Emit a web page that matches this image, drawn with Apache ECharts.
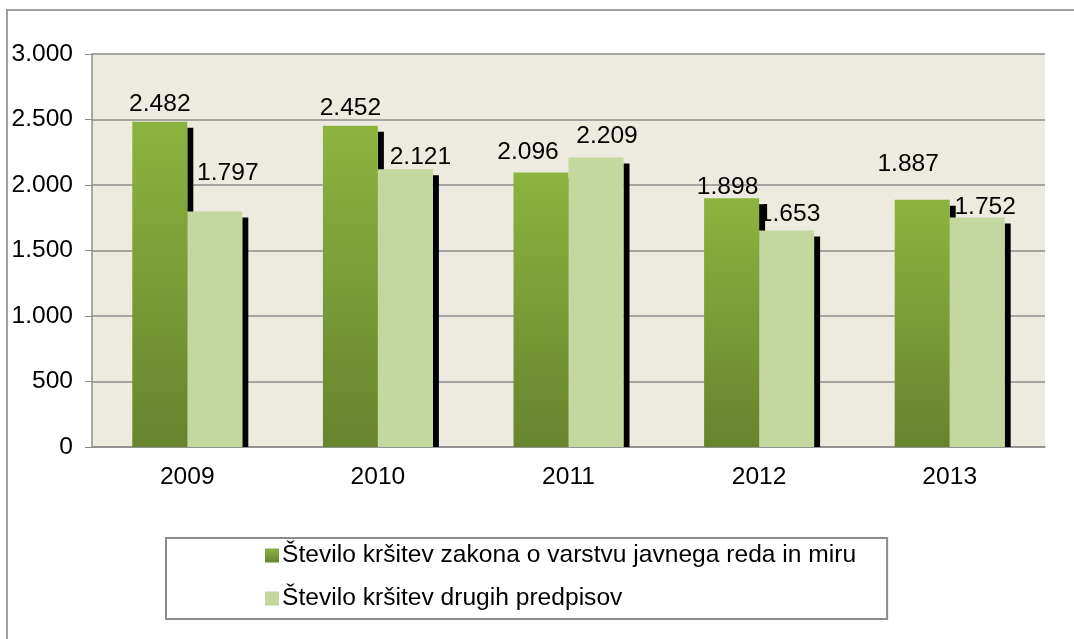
<!DOCTYPE html>
<html>
<head>
<meta charset="utf-8">
<style>
  html, body { margin: 0; padding: 0; background: #fff; }
  #chart { width: 1074px; height: 639px; }
</style>
<script src="https://cdn.jsdelivr.net/npm/echarts@6/dist/echarts.min.js"></script>
</head>
<body>
<div id="chart"></div>
<script>
// podatki
var years = ['2009', '2010', '2011', '2012', '2013'];
var seriesNames = ['Število kršitev zakona o varstvu javnega reda in miru', 'Število kršitev drugih predpisov'];
var zakonValues = [2482, 2452, 2096, 1898, 1887];
var drugiValues = [1797, 2121, 2209, 1653, 1752];

// ročno premaknjene oznake (dx, razdalja nad stolpcem)
var zakonLabelDx = [0, 0, -13, -4, -14];
var zakonLabelDy = [19, 19, 22, 13, 37];
var drugiLabelDx = [13, 15, 11, 3, 8];
var drugiLabelDy = [40, 13, 23, 18, 12];

var font = 'Liberation Sans, Arial, sans-serif';
var fs = 24.6;
var barW = 55;
var shadowW = 6;

function fmt(v) {
    var s = String(v);
    if (s.length > 3) s = s.slice(0, s.length - 3) + '.' + s.slice(s.length - 3);
    return s;
}

function barData(values, dx, dy) {
    return values.map(function (v, i) {
        return { value: v, label: { offset: [dx[i], -(dy[i] - 14)] } };
    });
}

function shadowData(values) {
    return values.map(function (v, i) { return [i, v]; });
}

function shadowRender(xShift) {
    return function (params, api) {
        var top = api.coord([api.value(0), api.value(1)]);
        var base = api.coord([api.value(0), 0]);
        return {
            type: 'rect',
            shape: { x: top[0] + xShift, y: top[1] + 6, width: shadowW, height: base[1] - top[1] - 6 },
            style: { fill: '#000' }
        };
    };
}

var greenGrad = new echarts.graphic.LinearGradient(0, 0, 0, 1, [
    { offset: 0, color: '#8DB33F' },
    { offset: 1, color: '#68832E' }
]);

var myChart = echarts.init(document.getElementById('chart'));

var option = {
    animation: false,
    textStyle: { fontFamily: font },
    graphic: [{
        type: 'rect',
        shape: { x: 7, y: 10, width: 1100, height: 700 },
        style: { fill: 'none', stroke: '#A0A0A0', lineWidth: 2 },
        silent: true
    }],
    grid: {
        left: 92, right: 29, top: 54, bottom: 192,
        show: true, backgroundColor: '#EDEBE0', borderWidth: 0
    },
    legend: {
        orient: 'vertical',
        left: 166, top: 538,
        padding: [5, 31, 8, 99],
        borderColor: '#8C8C8C', borderWidth: 2,
        itemGap: 18,
        itemWidth: 14, itemHeight: 14,
        icon: 'rect',
        data: seriesNames,
        textStyle: { fontSize: fs, color: '#000', fontFamily: font, padding: [0, 0, 0, -2] }
    },
    xAxis: {
        type: 'category',
        data: years,
        axisLine: { lineStyle: { color: '#8C8C8C', width: 1.5 } },
        axisTick: { length: 7, lineStyle: { color: '#8C8C8C' } },
        axisLabel: { fontSize: fs, color: '#000', margin: 18 }
    },
    yAxis: {
        type: 'value',
        min: 0, max: 3000, interval: 500,
        axisLine: { show: true, lineStyle: { color: '#8C8C8C', width: 1.5 } },
        axisTick: { show: true, length: 7, lineStyle: { color: '#8C8C8C' } },
        splitLine: { lineStyle: { color: '#8C8C8C', width: 1.5 } },
        axisLabel: { fontSize: fs, color: '#000', margin: 19, formatter: fmt }
    },
    series: [
        {
            name: seriesNames[0],
            type: 'bar',
            z: 3,
            barWidth: barW,
            barGap: '0%',
            itemStyle: { color: greenGrad },
            label: { show: true, position: 'top', distance: 0, fontSize: fs, color: '#000', formatter: function (p) { return fmt(p.value); } },
            data: barData(zakonValues, zakonLabelDx, zakonLabelDy)
        },
        {
            name: seriesNames[1],
            type: 'bar',
            z: 3,
            barWidth: barW,
            barGap: '0%',
            itemStyle: { color: '#C4D79E' },
            label: { show: true, position: 'top', distance: 0, fontSize: fs, color: '#000', formatter: function (p) { return fmt(p.value); } },
            data: barData(drugiValues, drugiLabelDx, drugiLabelDy)
        },
        {
            type: 'custom',
            z: 2,
            silent: true,
            renderItem: shadowRender(0),
            encode: { x: 0, y: 1 },
            data: shadowData(zakonValues)
        },
        {
            type: 'custom',
            z: 2,
            silent: true,
            renderItem: shadowRender(barW),
            encode: { x: 0, y: 1 },
            data: shadowData(drugiValues)
        }
    ]
};

myChart.setOption(option);
</script>
</body>
</html>
